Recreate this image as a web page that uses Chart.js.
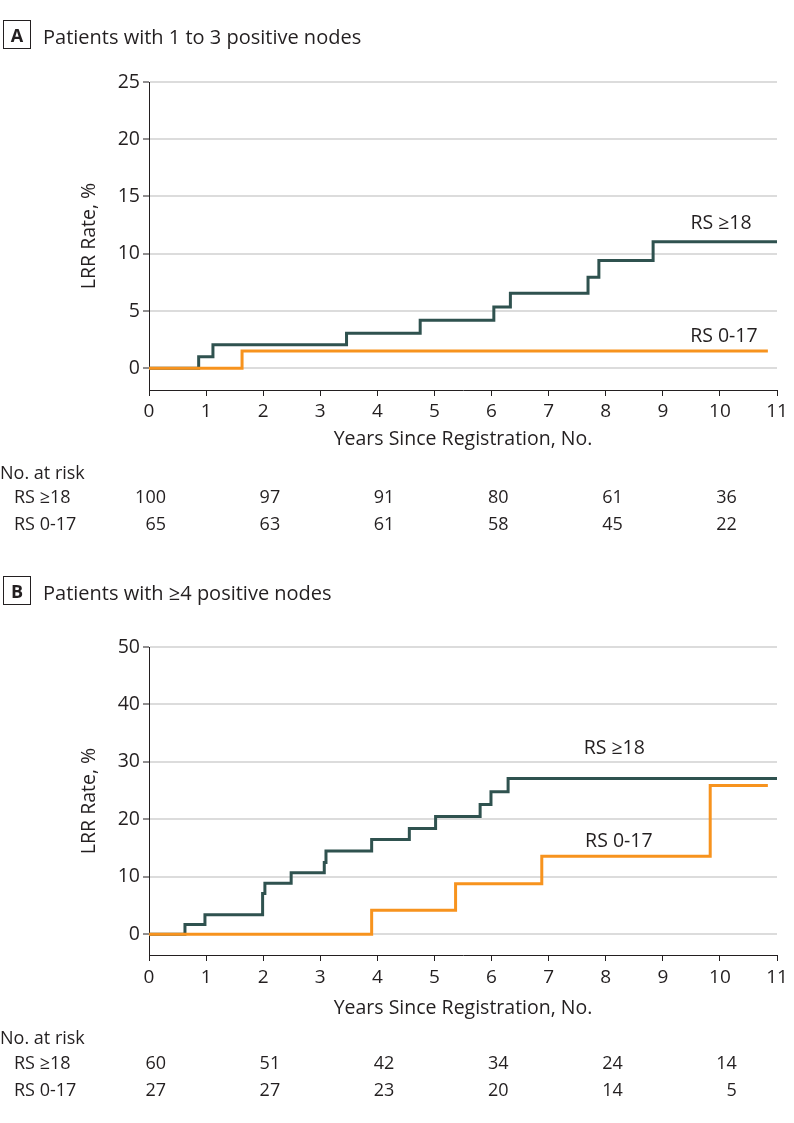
<!DOCTYPE html>
<html>
<head>
<meta charset="utf-8">
<script src="https://cdn.jsdelivr.net/npm/chart.js@4.4.0/dist/chart.umd.min.js"></script>
<style>
  body { margin: 0; background: #fff; }
  .panel { position: absolute; left: 0; width: 794px; }
  #panelA { top: 0; height: 560px; }
  #panelB { top: 560px; height: 563px; }
</style>
</head>
<body>
<div class="panel" id="panelA"><canvas id="chartA"></canvas></div>
<div class="panel" id="panelB"><canvas id="chartB"></canvas></div>
<script>
const FONT = '"Open Sans", "Noto Sans", sans-serif';
const TEXT = '#231f20';
const DARK = '#2f524f';
const ORANGE = '#f7931e';
const GRID = '#dcdcdc';

// ---- Panel A : 1 to 3 positive nodes ----
const aHighYears = [0, 0.87, 1.12, 3.46, 4.75, 6.04, 6.33, 7.69, 7.88, 8.83, 11];
const aHighRate  = [0, 1.0, 2.05, 3.05, 4.2, 5.35, 6.55, 7.95, 9.4, 11.05, 11.05];
const aLowYears  = [0, 1.63, 10.84];
const aLowRate   = [0, 1.5, 1.5];
const aTicksY    = [0, 5, 10, 15, 20, 25];
const aRiskHigh  = [100, 97, 91, 80, 61, 36];
const aRiskLow   = [65, 63, 61, 58, 45, 22];

// ---- Panel B : >=4 positive nodes ----
const bHighYears = [0, 0.63, 0.98, 1.99, 2.03, 2.49, 3.07, 3.1, 3.9, 4.56, 5.02, 5.8, 5.99, 6.29, 11];
const bHighRate  = [0, 1.7, 3.4, 7.1, 8.9, 10.7, 12.5, 14.5, 16.5, 18.4, 20.5, 22.6, 24.8, 27.1, 27.1];
const bLowYears  = [0, 3.9, 5.37, 6.88, 9.83, 10.84];
const bLowRate   = [0, 4.2, 8.8, 13.6, 25.9, 25.9];
const bTicksY    = [0, 10, 20, 30, 40, 50];
const bRiskHigh  = [60, 51, 42, 34, 24, 14];
const bRiskLow   = [27, 27, 23, 20, 14, 5];

const riskYears = [0, 2, 4, 6, 8, 10];
const groupNames = ['RS \u226518', 'RS 0-17'];

function toPoints(xs, ys) {
    return xs.map((x, i) => ({ x: x, y: ys[i] }));
}

// panel letter, heading, curve labels and the at-risk table
const panelDecor = {
    id: 'panelDecor',
    afterDraw(chart, args, o) {
        const ctx = chart.ctx;
        const xs = chart.scales.x, ys = chart.scales.y;
        ctx.save();
        ctx.fillStyle = TEXT;
        ctx.strokeStyle = TEXT;
        ctx.lineWidth = 1;
        ctx.textBaseline = 'alphabetic';

        // letter box + heading
        ctx.strokeRect(3.5, o.boxTop + 0.5, 27, 28);
        ctx.font = 'bold 18px ' + FONT;
        ctx.textAlign = 'center';
        ctx.fillText(o.letter, 17, o.boxTop + 21.5);
        ctx.font = '20px ' + FONT;
        ctx.textAlign = 'left';
        ctx.fillText(o.heading, 43, o.boxTop + 24);

        // curve labels
        ctx.font = '19.5px ' + FONT;
        ctx.textAlign = 'center';
        o.curveLabels.forEach(l => {
            ctx.fillText(l.text, xs.getPixelForValue(l.x), ys.getPixelForValue(l.y));
        });

        // number at risk
        ctx.font = '18px ' + FONT;
        ctx.textAlign = 'left';
        ctx.fillText('No. at risk', 0, o.riskTop);
        o.riskRows.forEach((row, r) => {
            const yy = o.riskTop + o.firstGap + o.rowGap * r;
            ctx.textAlign = 'left';
            ctx.fillText(groupNames[r], 14, yy);
            ctx.textAlign = 'right';
            row.forEach((n, i) => {
                ctx.fillText(String(n), xs.getPixelForValue(riskYears[i]) + 17, yy);
            });
        });
        ctx.restore();
    }
};

function makeChart(id, cfg) {
    const ctx = document.getElementById(id);
    return new Chart(ctx, {
        type: 'line',
        data: {
            datasets: [
                {
                    label: 'RS >=18',
                    data: toPoints(cfg.highX, cfg.highY),
                    borderColor: DARK,
                    borderWidth: 3,
                    stepped: 'before',
                    pointRadius: 0,
                    fill: false,
                    order: 2
                },
                {
                    label: 'RS 0-17',
                    data: toPoints(cfg.lowX, cfg.lowY),
                    borderColor: ORANGE,
                    borderWidth: 3,
                    stepped: 'before',
                    pointRadius: 0,
                    fill: false,
                    order: 1
                }
            ]
        },
        options: {
            responsive: true,
            maintainAspectRatio: false,
            animation: false,
            layout: {
                padding: { top: cfg.padTop, right: 17, bottom: cfg.padBottom, left: 0 }
            },
            scales: {
                x: {
                    type: 'linear',
                    min: 0,
                    max: 11,
                    afterFit(scale) { scale.height = cfg.xHeight; },
                    ticks: {
                        stepSize: 1,
                        color: TEXT,
                        font: { family: FONT, size: 19 },
                        padding: cfg.xTickPad
                    },
                    grid: {
                        drawOnChartArea: false,
                        tickColor: TEXT,
                        tickLength: 6
                    },
                    border: { color: TEXT, width: 1 },
                    title: {
                        display: true,
                        text: 'Years Since Registration, No.',
                        color: TEXT,
                        font: { family: FONT, size: 19.5 },
                        padding: { top: 0, bottom: 0 }
                    }
                },
                y: {
                    min: cfg.yMin,
                    max: cfg.yMax,
                    afterFit(scale) { scale.width = 149; },
                    afterBuildTicks(scale) {
                        scale.ticks = cfg.ticksY.map(v => ({ value: v }));
                    },
                    ticks: {
                        color: TEXT,
                        font: { family: FONT, size: 19.5 },
                        padding: 3
                    },
                    grid: {
                        color: GRID,
                        lineWidth: 2,
                        tickColor: TEXT,
                        tickWidth: 1,
                        tickLength: 6
                    },
                    border: { color: TEXT, width: 1 },
                    title: {
                        display: true,
                        text: 'LRR Rate, %',
                        color: TEXT,
                        font: { family: FONT, size: 19.5 },
                        padding: { top: 78, bottom: 0 }
                    }
                }
            },
            plugins: {
                legend: { display: false },
                tooltip: { enabled: false },
                panelDecor: cfg.decor
            }
        },
        plugins: [panelDecor]
    });
}

makeChart('chartA', {
    highX: aHighYears, highY: aHighRate,
    lowX: aLowYears, lowY: aLowRate,
    ticksY: aTicksY, yMin: -1.9, yMax: 25,
    padTop: 82, xHeight: 61, padBottom: 109, xTickPad: 4,
    decor: {
        letter: 'A',
        heading: 'Patients with 1 to 3 positive nodes',
        boxTop: 20,
        curveLabels: [
            { text: groupNames[0], x: 10.02, y: 12.17 },
            { text: groupNames[1], x: 10.07, y: 2.31 }
        ],
        riskTop: 479, firstGap: 24, rowGap: 26.5,
        riskRows: [aRiskHigh, aRiskLow]
    }
});

makeChart('chartB', {
    highX: bHighYears, highY: bHighRate,
    lowX: bLowYears, lowY: bLowRate,
    ticksY: bTicksY, yMin: -3.6, yMax: 50,
    padTop: 87, xHeight: 65, padBottom: 103, xTickPad: 5,
    decor: {
        letter: 'B',
        heading: 'Patients with \u22654 positive nodes',
        boxTop: 16,
        curveLabels: [
            { text: groupNames[0], x: 8.15, y: 31.3 },
            { text: groupNames[1], x: 8.23, y: 15.2 }
        ],
        riskTop: 484, firstGap: 25, rowGap: 27,
        riskRows: [bRiskHigh, bRiskLow]
    }
});
</script>
</body>
</html>
